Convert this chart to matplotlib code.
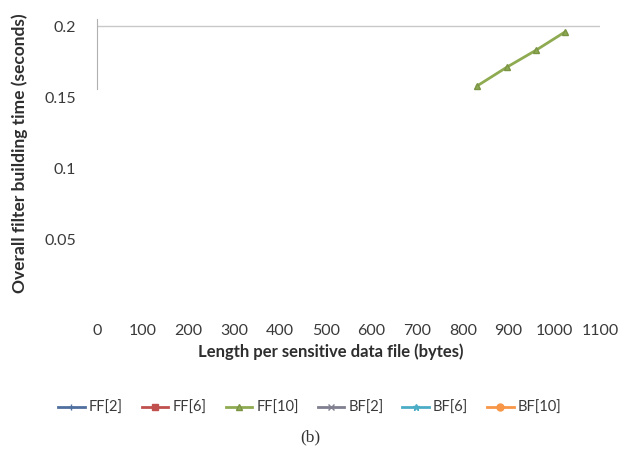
import matplotlib
matplotlib.use("Agg")
import matplotlib.pyplot as plt

# series data (only FF[10] falls inside the visible window)
series_names = ["FF[2]", "FF[6]", "FF[10]", "BF[2]", "BF[6]", "BF[10]"]
series_x = {
    "FF[2]": [], "FF[6]": [], "FF[10]": [832, 896, 960, 1024],
    "BF[2]": [], "BF[6]": [], "BF[10]": [],
}
series_y = {
    "FF[2]": [], "FF[6]": [], "FF[10]": [0.158, 0.171, 0.183, 0.196],
    "BF[2]": [], "BF[6]": [], "BF[10]": [],
}
colors = ["#4f6f9f", "#c0504d", "#8fab52", "#7f7f8f", "#4bacc6", "#f79646"]
markers = ["+", "s", "^", "x", "*", "o"]

x_ticks = list(range(0, 1101, 100))
y_ticks = [0.05, 0.1, 0.15, 0.2]
y_tick_labels = ["0.05", "0.1", "0.15", "0.2"]

plt.rcParams["font.family"] = ["Lato", "DejaVu Sans"]

fig = plt.figure(figsize=(6.21, 4.57), dpi=100)
ax = fig.add_axes([97 / 621, 1 - 310 / 457, (600 - 97) / 621, (310 - 19) / 457])

for name, c, m in zip(series_names, colors, markers):
    ax.plot(series_x[name], series_y[name], color=c, marker=m, markersize=5,
            linewidth=2, label=name, markeredgecolor="#7a9444" if name == "FF[10]" else c)

ax.axhline(0.2, color="#c8c8c8", linewidth=1, zorder=0)

ax.set_xlim(0, 1100)
ax.set_ylim(0, 0.205)
ax.set_xticks(x_ticks)
ax.set_yticks(y_ticks)
ax.set_yticklabels(y_tick_labels)
ax.tick_params(length=0, labelsize=11.5, labelcolor="#3a3a3a")
ax.tick_params(axis="x", pad=10)
ax.tick_params(axis="y", pad=15)

for s in ["top", "right", "bottom"]:
    ax.spines[s].set_visible(False)
ax.spines["left"].set_color("#b0b0b0")
ax.spines["left"].set_bounds(0.156, 0.205)

fig.text(331 / 621, 1 - 352 / 457, "Length per sensitive data file (bytes)",
         ha="center", va="center", fontsize=12, fontweight="bold", color="#2e2e2e")
fig.text(20 / 621, 1 - 153 / 457, "Overall filter building time (seconds)",
         ha="center", va="center", rotation=90, fontsize=12.5, fontweight="bold",
         color="#2e2e2e")

handles, labels = ax.get_legend_handles_labels()
fig.legend(handles, labels, loc="center", bbox_to_anchor=(310 / 621, 1 - 408 / 457),
           ncol=6, frameon=False, fontsize=10.5, handlelength=1.8, handletextpad=0.3,
           columnspacing=1.3, labelcolor="#3a3a3a")

fig.text(310 / 621, 1 - 437 / 457, "(b)", ha="center", va="center", fontsize=12.5,
         family="Liberation Serif", color="#333333")

# fragment of caption text cut off at the top edge
fig.text(5 / 621, 1 + 6 / 457, "), p", ha="left", va="baseline", fontsize=20,
         family="Liberation Serif")
fig.text(212 / 621, 1 + 6 / 457, "g p", ha="left", va="baseline", fontsize=20,
         family="Liberation Serif")

fig.savefig("out.png", dpi=100)
